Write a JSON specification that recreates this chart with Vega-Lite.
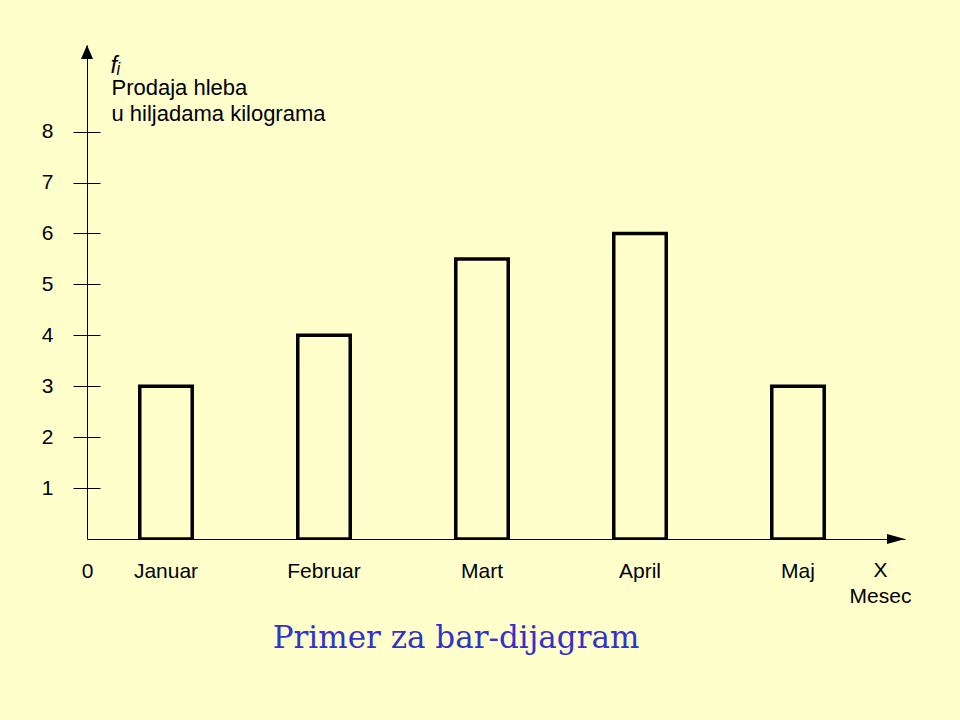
{
  "$schema": "https://vega.github.io/schema/vega-lite/v6.json",
  "width": 818,
  "height": 494,
  "autosize": "none",
  "padding": {"left": 87, "top": 45, "right": 55, "bottom": 181},
  "background": "#FFFFCC",
  "config": {
    "view": {"stroke": null},
    "font": "Liberation Sans",
    "axis": {"grid": false, "labelColor": "black", "titleColor": "black", "tickColor": "black", "domainColor": "black", "labelFont": "Liberation Sans", "titleFont": "Liberation Sans", "titleFontWeight": "normal"}
  },
  "title": {
    "text": "Primer za bar-dijagram",
    "orient": "bottom",
    "anchor": "middle",
    "font": "DejaVu Serif",
    "fontSize": 31,
    "fontWeight": "normal",
    "color": "#3333CC",
    "dx": -40,
    "offset": 18
  },
  "layer": [
    {
      "data": {"values": [
        {"mesec": "Januar", "prodaja": 3},
        {"mesec": "Februar", "prodaja": 4},
        {"mesec": "Mart", "prodaja": 5.5},
        {"mesec": "April", "prodaja": 6},
        {"mesec": "Maj", "prodaja": 3}
      ]},
      "mark": {"type": "bar", "fill": "#FFFFCC", "stroke": "black", "strokeWidth": 3.5, "strokeJoin": "miter", "clip": true},
      "encoding": {
        "x": {
          "field": "mesec", "type": "nominal", "sort": null,
          "scale": {"range": [0, 790], "paddingInner": 0.668, "paddingOuter": 0.334},
          "axis": {"orient": "bottom", "domain": false, "ticks": false, "labelAngle": 0, "labelFontSize": 21, "labelPadding": 21, "title": null}
        },
        "y": {
          "field": "prodaja", "type": "quantitative",
          "scale": {"domain": [0, 9.7], "nice": false, "zero": true},
          "axis": {
            "orient": "left", "values": [1, 2, 3, 4, 5, 6, 7, 8], "domain": true, "domainWidth": 1,
            "tickSize": 14, "tickWidth": 1, "labelPadding": 20, "labelFontSize": 21,
            "title": ["Prodaja hleba", "u hiljadama kilograma"],
            "titleAngle": 0, "titleAlign": "left", "titleBaseline": "alphabetic",
            "titleX": 24, "titleY": 49, "titleFontSize": 22, "titleLineHeight": 26
          }
        }
      }
    },
    {
      "data": {"values": [
        {"strelica": "y", "x": 0, "y": 9.7},
        {"strelica": "x", "x": 1, "y": 0}
      ]},
      "layer": [
        {
          "transform": [{"filter": "datum.strelica === 'y'"}],
          "mark": {"type": "point", "shape": "M0,0L-0.43,1L0.43,1Z", "filled": true, "color": "black", "opacity": 1, "size": 784},
          "encoding": {
            "x": {
              "field": "x", "type": "quantitative",
              "scale": {"domain": [0, 1], "nice": false},
              "axis": {
                "orient": "bottom", "values": [0], "domain": true, "domainWidth": 1, "ticks": false,
                "labelFontSize": 21, "labelPadding": 21, "labelExpr": "'0'", "labelFlush": false, "labelAlign": "center",
                "title": ["X", "Mesec"], "titleX": 793, "titleY": 20, "titleAlign": "center",
                "titleBaseline": "top", "titleFontSize": 21, "titleLineHeight": 26
              }
            },
            "y": {
              "field": "y", "type": "quantitative",
              "scale": {"domain": [0, 9.7], "nice": false},
              "axis": {
                "orient": "right", "offset": -818, "values": [1, 2, 3, 4, 5, 6, 7, 8],
                "domain": false, "labels": false, "tickSize": 13, "tickWidth": 1,
                "title": "fᵢ", "titleAngle": 0, "titleAlign": "left", "titleBaseline": "alphabetic",
                "titleX": 23, "titleY": 27, "titleFontSize": 24, "titleFontStyle": "italic"
              }
            }
          }
        },
        {
          "transform": [{"filter": "datum.strelica === 'x'"}],
          "mark": {"type": "point", "shape": "M0,0L-1,-0.28L-1,0.28Z", "filled": true, "color": "black", "opacity": 1, "size": 1296},
          "encoding": {
            "x": {"field": "x", "type": "quantitative"},
            "y": {"field": "y", "type": "quantitative"}
          }
        }
      ]
    }
  ],
  "resolve": {"scale": {"x": "independent"}, "axis": {"x": "independent", "y": "independent"}}
}
